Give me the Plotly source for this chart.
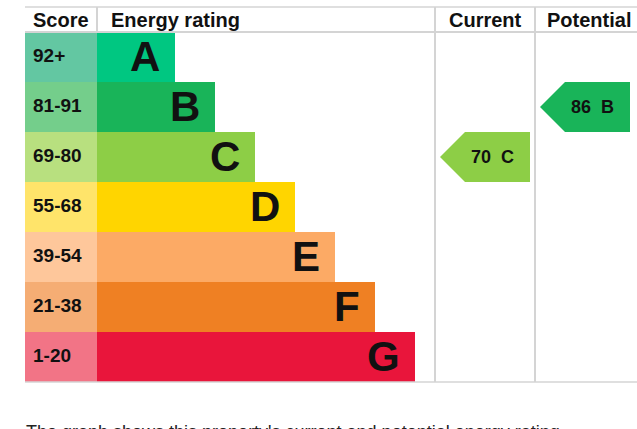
import plotly.graph_objects as go

# EPC chart data
bands = ["A", "B", "C", "D", "E", "F", "G"]
score_ranges = ["92+", "81-91", "69-80", "55-68", "39-54", "21-38", "1-20"]
band_colors = ["#00c781", "#19b459", "#8dce46", "#ffd500", "#fcaa65", "#ef8023", "#e9153b"]
score_colors = ["#63c7a2", "#74ce8b", "#b8e07f", "#ffe46a", "#fec79b", "#f5ad74", "#f27486"]
current_score, current_band = 70, "C"
potential_score, potential_band = 86, "B"

W, H = 637, 429
FONT = "Liberation Sans, Arial, sans-serif"
ROW_H = 50
TOP = 32          # bottom of header row
LEFT = 25
BAR_X0 = 97
COL_CUR = 435
COL_POT = 535
GRID = "#d4d4d4"

row_y = [TOP + ROW_H * i + ROW_H / 2 for i in range(len(bands))]
bar_len = [78 + 40 * i for i in range(len(bands))]

fig = go.Figure()

# score column
fig.add_trace(go.Bar(
    y=row_y, x=[BAR_X0 - LEFT] * len(bands), base=LEFT, orientation="h",
    width=ROW_H, marker=dict(color=score_colors, line=dict(width=0)),
    hoverinfo="skip", showlegend=False,
))
# rating bars
fig.add_trace(go.Bar(
    y=row_y, x=bar_len, base=BAR_X0, orientation="h",
    width=ROW_H, marker=dict(color=band_colors, line=dict(width=0)),
    hoverinfo="skip", showlegend=False,
))

annotations = []
for i, b in enumerate(bands):
    annotations.append(dict(
        x=BAR_X0 + bar_len[i] - 13, y=row_y[i] - 1, text=b, xanchor="right", yanchor="middle",
        showarrow=False, font=dict(family=FONT, size=42, color="#111111", weight="bold"),
    ))
    annotations.append(dict(
        x=LEFT + 6, y=row_y[i] - 2, text=score_ranges[i], xanchor="left", yanchor="middle",
        showarrow=False, font=dict(family=FONT, size=19, color="#111111", weight="bold"),
    ))


def arrow(score, band, x_tip):
    i = bands.index(band)
    y0, y1 = TOP + ROW_H * i, TOP + ROW_H * (i + 1)
    xs = [x_tip, x_tip + 25, x_tip + 90, x_tip + 90, x_tip + 25, x_tip]
    ys = [(y0 + y1) / 2, y0, y0, y1, y1, (y0 + y1) / 2]
    fig.add_trace(go.Scatter(
        x=xs, y=ys, mode="lines", fill="toself", fillcolor=band_colors[i],
        line=dict(width=0, color=band_colors[i]), hoverinfo="skip", showlegend=False,
    ))
    annotations.append(dict(
        x=x_tip + 52, y=(y0 + y1) / 2, text=f"{score}&nbsp;&nbsp;{band}", xanchor="center",
        yanchor="middle", showarrow=False,
        font=dict(family=FONT, size=18, color="#111111", weight="bold"),
    ))


arrow(current_score, current_band, COL_CUR + 5)
arrow(potential_score, potential_band, COL_POT + 5)

# header
hdr_font = dict(family=FONT, size=20, color="#111111", weight="bold")
annotations += [
    dict(x=61, y=20, text="Score", xanchor="center", yanchor="middle", showarrow=False, font=hdr_font),
    dict(x=109, y=20, text="Energy rating", xanchor="left", yanchor="middle", showarrow=False, font=hdr_font),
    dict(x=485, y=20, text="Current", xanchor="center", yanchor="middle", showarrow=False, font=hdr_font),
    dict(x=589, y=20, text="Potential", xanchor="center", yanchor="middle", showarrow=False, font=hdr_font),
    dict(x=LEFT - 1, y=420, text="The graph shows this property's current and potential energy rating.",
         xanchor="left", yanchor="top", showarrow=False,
         font=dict(family=FONT, size=18, color="#222222")),
]

bottom = TOP + ROW_H * len(bands)
shapes = [
    dict(type="line", x0=LEFT, x1=W, y0=7, y1=7, line=dict(color=GRID, width=1.5)),
    dict(type="line", x0=LEFT, x1=W, y0=TOP, y1=TOP, line=dict(color=GRID, width=2)),
    dict(type="line", x0=LEFT, x1=W, y0=bottom, y1=bottom, line=dict(color=GRID, width=1.5)),
    dict(type="line", x0=BAR_X0, x1=BAR_X0, y0=7, y1=TOP, line=dict(color=GRID, width=2)),
    dict(type="line", x0=COL_CUR, x1=COL_CUR, y0=7, y1=bottom, line=dict(color=GRID, width=2)),
    dict(type="line", x0=COL_POT, x1=COL_POT, y0=7, y1=bottom, line=dict(color=GRID, width=2)),
]

fig.update_layout(
    width=W, height=H, margin=dict(l=0, r=0, t=0, b=0),
    paper_bgcolor="white", plot_bgcolor="white",
    barmode="overlay", bargap=0,
    xaxis=dict(range=[0, W], visible=False, fixedrange=True),
    yaxis=dict(range=[H, 0], visible=False, fixedrange=True),
    annotations=annotations, shapes=shapes,
)

fig.write_html(
    "out.html",
    config={"displayModeBar": False},
    post_script="document.body.style.margin='0';document.body.style.overflow='hidden';",
)
